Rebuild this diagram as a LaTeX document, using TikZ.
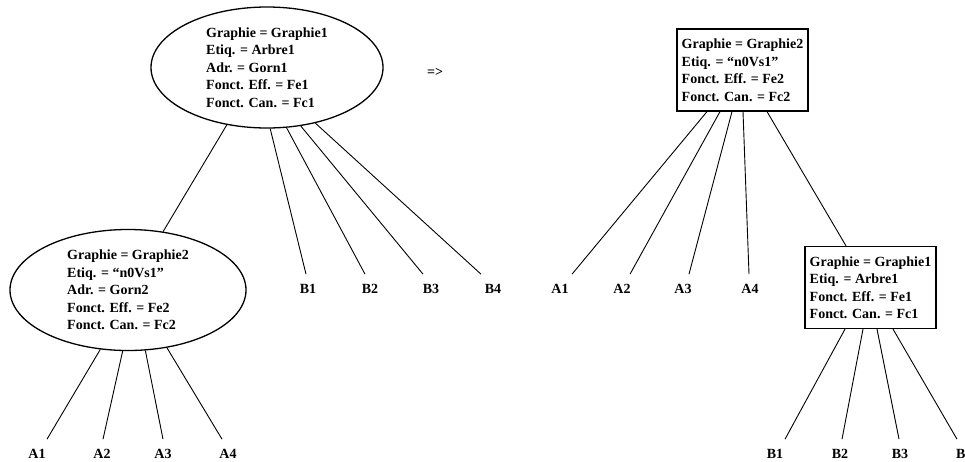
\documentclass[tikz,border=0pt]{standalone}
\usepackage{fontspec}
\setmainfont{Liberation Serif}
\usetikzlibrary{shapes.geometric}
\begin{document}
\begin{tikzpicture}[x=1pt,y=-1pt,
  txt/.style={font=\fontsize{14}{17.5}\selectfont\bfseries},
  ell/.style={draw, ellipse, line width=1.3pt, minimum width=232pt, minimum height=121pt, inner sep=0pt, align=left, txt},
  rbox/.style={draw, rectangle, line width=1.2pt, minimum width=131pt, minimum height=82pt, inner xsep=3pt, inner ysep=2pt, align=left, txt},
  leaf/.style={txt, inner xsep=1pt, inner ysep=10pt},
  edge/.style={line width=0.9pt}]
\fill[white] (0,0) rectangle (965,461);
\useasboundingbox (0,0) rectangle (965,461);

% left tree
\node[ell] (E1) at (267,67.5) {Graphie = Graphie1\\Etiq. = Arbre1\\Adr. = Gorn1\\Fonct. Eff. = Fe1\\Fonct. Can. = Fc1};
\node[ell, minimum width=236pt] (E2) at (128,290) {Graphie = Graphie2\\Etiq. = “n0Vs1”\\Adr. = Gorn2\\Fonct. Eff. = Fe2\\Fonct. Can. = Fc2};

\node[leaf] (mb1) at (308,289) {B1};
\node[leaf] (mb2) at (370,289) {B2};
\node[leaf] (mb3) at (431,289) {B3};
\node[leaf] (mb4) at (493,289) {B4};

\node[leaf] (la1) at (37,454) {A1};
\node[leaf] (la2) at (102,454) {A2};
\node[leaf] (la3) at (163,454) {A3};
\node[leaf] (la4) at (228,454) {A4};

\draw[edge] (E1.-125.5) -- (E2.59);
\draw[edge] (E1.-87) -- ([xshift=-2pt]mb1.north);
\draw[edge] (E1.-72) -- ([xshift=-5pt]mb2.north);
\draw[edge] (E1.-60) -- ([xshift=-8pt]mb3.north);
\draw[edge] (E1.-49) -- ([xshift=-12pt]mb4.north);

\draw[edge] (E2.-115) -- ([xshift=10pt]la1.north);
\draw[edge] (E2.-95) -- ([xshift=1pt]la2.north);
\draw[edge] (E2.-74) -- (la3.north);
\draw[edge] (E2.-56) -- ([xshift=-6pt]la4.north);

% arrow
\node[txt, inner sep=0pt] (arr) at (435,72) {=>};

% right tree
\node[rbox] (R1) at (742.5,70) {Graphie = Graphie2\\Etiq. = “n0Vs1”\\Fonct. Eff. = Fe2\\Fonct. Can. = Fc2};
\node[rbox] (R2) at (870.5,287.5) {Graphie = Graphie1\\Etiq. = Arbre1\\Fonct. Eff. = Fe1\\Fonct. Can. = Fc1};

\node[leaf] (ra1) at (560,289) {A1};
\node[leaf] (ra2) at (622,289) {A2};
\node[leaf] (ra3) at (683,289) {A3};
\node[leaf] (ra4) at (750,289) {A4};

\node[leaf] (rb1) at (775,454) {B1};
\node[leaf] (rb2) at (840,454) {B2};
\node[leaf] (rb3) at (900,454) {B3};
\node[leaf, anchor=west] (rb4) at (955,454) {B};

\draw[edge] ([xshift=-35.5pt]R1.south) -- ([xshift=12pt]ra1.north);
\draw[edge] ([xshift=-22.5pt]R1.south) -- ([xshift=8pt]ra2.north);
\draw[edge] ([xshift=-10.5pt]R1.south) -- ([xshift=6pt]ra3.north);
\draw[edge] ([xshift=0.5pt]R1.south) -- ([xshift=-1pt]ra4.north);
\draw[edge] ([xshift=24.5pt]R1.south) -- ([xshift=-24.5pt]R2.north);

\draw[edge] ([xshift=-25.5pt]R2.south) -- ([xshift=10pt]rb1.north);
\draw[edge] ([xshift=-7.5pt]R2.south) -- ([xshift=2pt]rb2.north);
\draw[edge] ([xshift=6.5pt]R2.south) -- ([xshift=-1pt]rb3.north);
\draw[edge] ([xshift=22.5pt]R2.south) -- ([xshift=2pt]rb4.north west);
\end{tikzpicture}
\end{document}
